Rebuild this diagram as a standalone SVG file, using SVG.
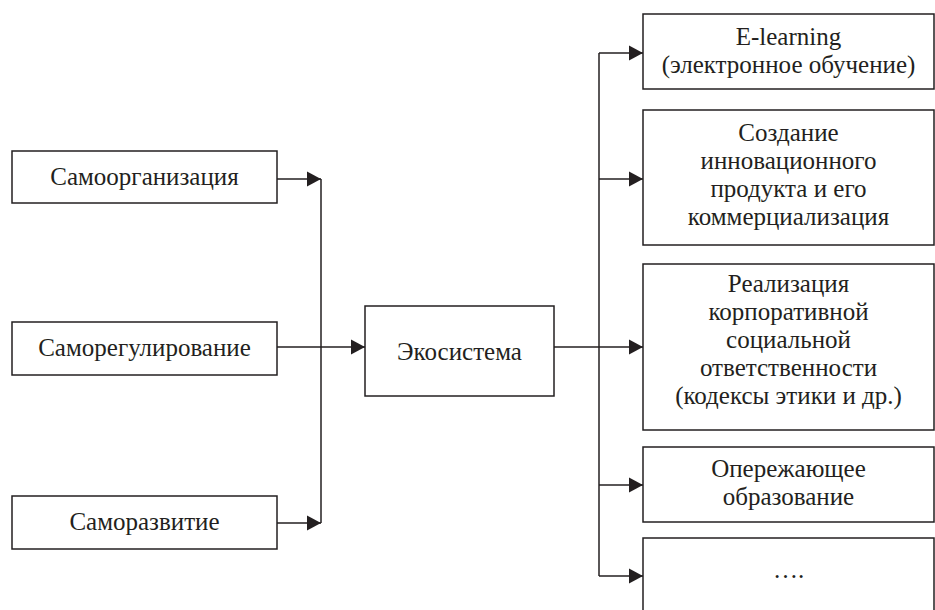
<svg xmlns="http://www.w3.org/2000/svg" width="935" height="610" viewBox="0 0 935 610">
<style>
.box{fill:#fff;stroke:#231f20;stroke-width:1.5}
.c{fill:none;stroke:#231f20;stroke-width:1.5}
text{font-family:'Liberation Serif', 'DejaVu Serif', serif;font-size:25px;fill:#231f20;text-anchor:middle}
</style>
<defs>
<marker id="ah" markerUnits="userSpaceOnUse" markerWidth="16" markerHeight="16" viewBox="0 0 16 16" refX="14" refY="8" orient="auto">
<path d="M0,0.5 L14,8 L0,15.5 Z" fill="#231f20"/>
</marker>
</defs>
<rect width="935" height="610" fill="#fff"/>
<g id="connectors">
<path class="c" d="M277,179 H321" marker-end="url(#ah)"/>
<path class="c" d="M277,523 H321" marker-end="url(#ah)"/>
<path class="c" d="M321,179 V523"/>
<path class="c" d="M277,347 H365" marker-end="url(#ah)"/>
<path class="c" d="M554,347 H643" marker-end="url(#ah)"/>
<path class="c" d="M599,53 V576"/>
<path class="c" d="M599,53 H643" marker-end="url(#ah)"/>
<path class="c" d="M599,179 H643" marker-end="url(#ah)"/>
<path class="c" d="M599,485 H643" marker-end="url(#ah)"/>
<path class="c" d="M599,576 H643" marker-end="url(#ah)"/>
</g>
<g id="n-samoorg">
<rect class="box" x="12" y="151" width="265" height="52"/>
<text x="144.5" y="185" font-family="Liberation Serif">Самоорганизация</text>
</g>
<g id="n-samoreg">
<rect class="box" x="12" y="322" width="265" height="53"/>
<text x="144.5" y="356">Саморегулирование</text>
</g>
<g id="n-samorazv">
<rect class="box" x="12" y="496" width="265" height="53"/>
<text x="144.5" y="530">Саморазвитие</text>
</g>
<g id="n-eco">
<rect class="box" x="365" y="306" width="189" height="90"/>
<text x="459.5" y="360">Экосистема</text>
</g>
<g id="n-elearning">
<rect class="box" x="643" y="14" width="291" height="75"/>
<text x="788.5" y="45">E-learning</text>
<text x="788.5" y="73">(электронное обучение)</text>
</g>
<g id="n-innov">
<rect class="box" x="643" y="110" width="291" height="135"/>
<text x="788.5" y="141">Создание</text>
<text x="788.5" y="169">инновационного</text>
<text x="788.5" y="197">продукта и его</text>
<text x="788.5" y="225">коммерциализация</text>
</g>
<g id="n-ksr">
<rect class="box" x="643" y="264" width="291" height="166"/>
<text x="788.5" y="292">Реализация</text>
<text x="788.5" y="320">корпоративной</text>
<text x="788.5" y="348">социальной</text>
<text x="788.5" y="376">ответственности</text>
<text x="788.5" y="404">(кодексы этики и др.)</text>
</g>
<g id="n-oper">
<rect class="box" x="643" y="447" width="291" height="75"/>
<text x="788.5" y="477">Опережающее</text>
<text x="788.5" y="505">образование</text>
</g>
<g id="n-more">
<rect class="box" x="643" y="538" width="291" height="90"/>
<text x="788.5" y="578">….</text>
</g>
</svg>
